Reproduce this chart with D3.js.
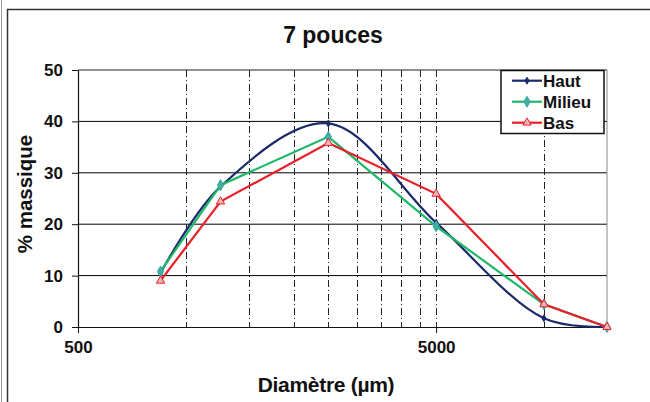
<!DOCTYPE html>
<html>
<head>
<meta charset="utf-8">
<script src="https://cdn.jsdelivr.net/npm/d3@7"></script>
<style>
  html, body { margin: 0; padding: 0; background: #fff; }
  svg { display: block; font-family: "Liberation Sans", Arial, sans-serif; }
</style>
</head>
<body>
<svg id="chart" width="650" height="402"></svg>
<script>
// ---- data ----
const diameters = [850, 1250, 2500, 5000, 10000, 15000];
const haut   = [10.5, 27.3, 39.6, 20.3, 1.7, 0];
const milieu = [10.8, 27.6, 37.0, 19.6, 4.4, 0];
const bas    = [9.0, 24.4, 35.8, 25.9, 4.4, 0];
const seriesNames = ["Haut", "Milieu", "Bas"];
const yTicks = [0, 10, 20, 30, 40, 50];
const xTicks = [500, 5000];
const xGrid = [1000, 1500, 2000, 2500, 3000, 3500, 4000, 4500, 5000, 10000];
const title = "7 pouces";
const xLabel = "Diamètre (µm)";
const yLabel = "% massique";

// ---- layout ----
const L = 78, R = 607, T = 70, B = 327;
const svg = d3.select("#chart");

const x = d3.scaleLog().domain([500, 15000]).range([L, R]);
const y = d3.scaleLinear().domain([0, 50]).range([B, T]);

// outer frame
svg.append("line").attr("x1", 1.5).attr("x2", 1.5).attr("y1", 0).attr("y2", 402)
  .attr("stroke", "#9a9a9a").attr("stroke-width", 1);
svg.append("path").attr("d", "M7.5,402 V9.5 H650")
  .attr("fill", "none").attr("stroke", "#333").attr("stroke-width", 1.5);

// title
svg.append("text").attr("x", 333).attr("y", 43).attr("text-anchor", "middle")
  .attr("font-size", 23).attr("font-weight", "bold").attr("fill", "#111").text(title);

// horizontal gridlines
svg.append("g").selectAll("line").data(yTicks.filter(d => d > 0 && d < 50)).join("line")
  .attr("x1", L).attr("x2", R).attr("y1", d => y(d)).attr("y2", d => y(d))
  .attr("stroke", "#000").attr("stroke-width", 1);

// vertical dash-dot gridlines
svg.append("g").selectAll("line").data(xGrid).join("line")
  .attr("x1", d => Math.round(x(d)) + 0.5).attr("x2", d => Math.round(x(d)) + 0.5)
  .attr("y1", T).attr("y2", B)
  .attr("stroke", "#222").attr("stroke-width", 1).attr("stroke-dasharray", "7,3,1,3");

// plot border top and right
svg.append("line").attr("x1", L).attr("x2", R).attr("y1", y(50)).attr("y2", y(50))
  .attr("stroke", "#222").attr("stroke-width", 1);
svg.append("line").attr("x1", R).attr("x2", R).attr("y1", T).attr("y2", B)
  .attr("stroke", "#8a8a8a").attr("stroke-width", 1);

// axes
const yAxis = d3.axisLeft(y).tickValues(yTicks).tickSize(6).tickSizeOuter(0).tickPadding(9);
const gy = svg.append("g").attr("transform", `translate(${L},0)`).call(yAxis);
const xAxis = d3.axisBottom(x).tickValues(xTicks).tickFormat(d3.format("d"))
  .tickSize(6).tickSizeOuter(0).tickPadding(8);
const gx = svg.append("g").attr("transform", `translate(0,${B})`).call(xAxis);
[gx, gy].forEach(g => {
  g.selectAll("path.domain").attr("stroke", "#111").attr("stroke-width", 1.2);
  g.selectAll(".tick line").attr("stroke", "#111");
  g.selectAll("text").attr("font-size", 17).attr("font-weight", "bold")
    .attr("fill", "#111").attr("font-family", "'Liberation Sans', Arial, sans-serif");
});

// axis labels
svg.append("text").attr("x", 326).attr("y", 391.5).attr("text-anchor", "middle")
  .attr("font-size", 21).attr("font-weight", "bold").attr("fill", "#111")
  .attr("letter-spacing", -0.3).text(xLabel);
svg.append("text").attr("transform", "translate(32,194) rotate(-90)").attr("text-anchor", "middle")
  .attr("font-size", 20.5).attr("font-weight", "bold").attr("fill", "#111").text(yLabel);

// clip
svg.append("clipPath").attr("id", "plotclip").append("rect")
  .attr("x", L).attr("y", T - 2).attr("width", R - L + 2).attr("height", B - T + 3);

const series = [
  { name: seriesNames[0], values: haut, color: "#1b2a6b", curve: d3.curveCatmullRom.alpha(0.5),
    symbol: d3.symbolDiamond, size: 14, fill: "#1b2a6b", mstroke: "#1b2a6b" },
  { name: seriesNames[1], values: milieu, color: "#1fb86a", curve: d3.curveLinear,
    symbol: d3.symbolDiamond, size: 34, fill: "#3fb0a0", mstroke: "#3aa898" },
  { name: seriesNames[2], values: bas, color: "#e8202a", curve: d3.curveLinear,
    symbol: d3.symbolTriangle, size: 30, fill: "#f5b5b5", mstroke: "#e8202a" }
];

series.forEach(s => {
  const pts = diameters.map((d, i) => [d, s.values[i]]);
  const line = d3.line().x(d => x(d[0])).y(d => y(d[1])).curve(s.curve);
  svg.append("path").attr("d", line(pts)).attr("fill", "none")
    .attr("stroke", s.color).attr("stroke-width", 2.2).attr("clip-path", "url(#plotclip)");
  svg.append("g").selectAll("path").data(pts).join("path")
    .attr("transform", d => `translate(${x(d[0])},${y(d[1])})`)
    .attr("d", d3.symbol().type(s.symbol).size(s.size))
    .attr("fill", s.fill).attr("stroke", s.mstroke).attr("stroke-width", 1);
});

// legend
const lg = svg.append("g");
lg.append("rect").attr("x", 501).attr("y", 70.5).attr("width", 103).attr("height", 63)
  .attr("fill", "#fff").attr("stroke", "#111").attr("stroke-width", 1.5);
series.forEach((s, i) => {
  const yy = 80.7 + i * 21;
  lg.append("line").attr("x1", 512).attr("x2", 542).attr("y1", yy).attr("y2", yy)
    .attr("stroke", s.color).attr("stroke-width", 2.2);
  lg.append("path").attr("transform", `translate(527,${yy})`)
    .attr("d", d3.symbol().type(s.symbol).size(s.size))
    .attr("fill", s.fill).attr("stroke", s.mstroke).attr("stroke-width", 1);
  lg.append("text").attr("x", 543).attr("y", yy + 6).attr("font-size", 17)
    .attr("font-weight", "bold").attr("fill", "#111").text(s.name);
});
</script>
</body>
</html>
